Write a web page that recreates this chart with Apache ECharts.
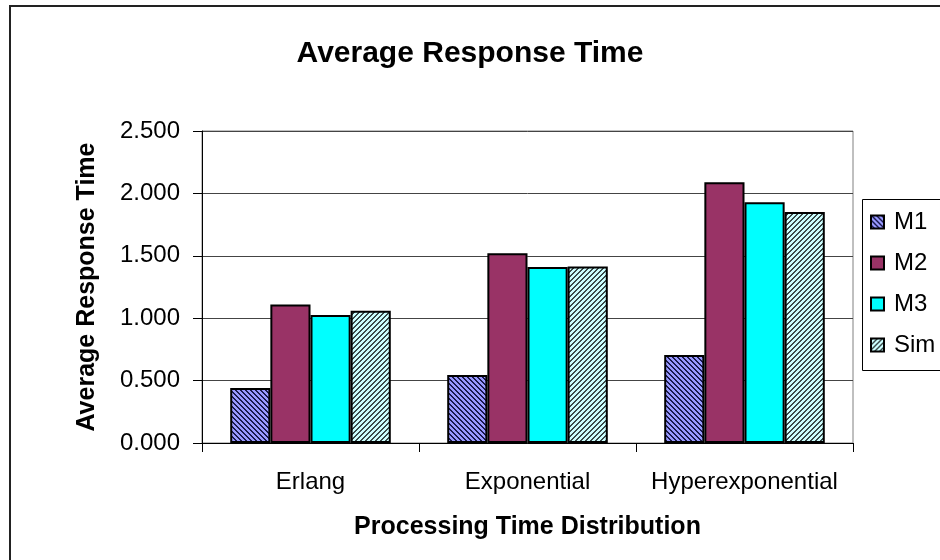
<!DOCTYPE html>
<html>
<head>
<meta charset="utf-8">
<script src="https://cdn.jsdelivr.net/npm/echarts@6/dist/echarts.min.js"></script>
<style>
html,body{margin:0;padding:0;background:#fff;}
#chart{width:940px;height:560px;}
</style>
</head>
<body>
<div id="chart"></div>
<script>
var categories = ['Erlang', 'Exponential', 'Hyperexponential'];
var seriesNames = ['M1', 'M2', 'M3', 'Sim'];
var m1 = [0.44, 0.545, 0.705];
var m2 = [1.11, 1.52, 2.09];
var m3 = [1.025, 1.41, 1.93];
var sim = [1.06, 1.415, 1.85];
var yTicks = [0, 0.5, 1, 1.5, 2, 2.5];

function makePattern(bg, fg, dir, period, thick) {
  var c = document.createElement('canvas');
  c.width = period; c.height = period;
  var ctx = c.getContext('2d');
  ctx.fillStyle = bg;
  ctx.fillRect(0, 0, period, period);
  ctx.fillStyle = fg;
  for (var x = 0; x < period; x++) {
    for (var y = 0; y < period; y++) {
      var k = dir === 'back' ? (x - y) : (x + y);
      k = ((k % period) + period) % period;
      if (k < thick) ctx.fillRect(x, y, 1, 1);
    }
  }
  return { image: c, repeat: 'repeat' };
}

var FONT = "'Liberation Sans', Arial, sans-serif";
var chart = echarts.init(document.getElementById('chart'));

var fills = [
  makePattern('#9999ff', '#1a1a4d', 'back', 5, 2),
  '#993366',
  '#00ffff',
  makePattern('#ccffff', '#3a4a4a', 'fwd', 5, 2)
];
var values = [m1, m2, m3, sim];

var series = seriesNames.map(function (n, i) {
  return {
    name: n,
    type: 'bar',
    data: values[i],
    barGap: '0%',
    barCategoryGap: '26%',
    itemStyle: { color: fills[i], borderColor: '#000', borderWidth: 2 },
    emphasis: { disabled: true }
  };
});

chart.setOption({
  animation: false,
  backgroundColor: '#fff',
  title: {
    text: 'Average Response Time',
    left: 'center',
    top: 39,
    padding: 0,
    textStyle: { fontFamily: FONT, fontSize: 30, fontWeight: 'bold', color: '#000' }
  },
  graphic: [{
    type: 'rect',
    shape: { x: 10, y: 6, width: 1000, height: 700 },
    style: { fill: 'none', stroke: '#222', lineWidth: 2 },
    silent: true,
    z: 100
  }, {
    type: 'rect',
    shape: { x: 862.5, y: 199.5, width: 200, height: 171 },
    style: { fill: 'none', stroke: '#000', lineWidth: 1 },
    silent: true,
    z: 100
  }],
  legend: {
    orient: 'vertical',
    left: 862,
    top: 199,
    data: seriesNames,
    icon: 'rect',
    itemWidth: 13,
    itemHeight: 13,
    itemGap: 17,
    padding: [11, 4, 14, 8],
    borderWidth: 0,
    selectedMode: false,
    textStyle: { fontFamily: FONT, fontSize: 24, color: '#000', padding: [0, 0, 0, 5] }
  },
  grid: {
    left: 202, right: 87, top: 131, bottom: 117,
    show: true, borderColor: '#808080', borderWidth: 1, backgroundColor: 'transparent'
  },
  xAxis: {
    type: 'category',
    data: categories,
    name: 'Processing Time Distribution',
    nameLocation: 'middle',
    nameGap: 72,
    nameTextStyle: { fontFamily: FONT, fontSize: 25, fontWeight: 'bold', color: '#000' },
    axisLine: { lineStyle: { color: '#000', width: 1 } },
    axisTick: { show: true, length: 9, lineStyle: { color: '#000' } },
    axisLabel: { fontFamily: FONT, fontSize: 24, color: '#000', margin: 27, interval: 0 },
    splitLine: { show: false }
  },
  yAxis: {
    type: 'value',
    min: 0,
    max: 2.5,
    interval: 0.5,
    name: 'Average Response Time',
    nameLocation: 'middle',
    nameGap: 102,
    nameTextStyle: { fontFamily: FONT, fontSize: 25, fontWeight: 'bold', color: '#000' },
    axisLine: { show: true, lineStyle: { color: '#000', width: 1 } },
    axisTick: { show: true, length: 9, lineStyle: { color: '#000' } },
    axisLabel: {
      fontFamily: FONT, fontSize: 24, color: '#000', margin: 22,
      formatter: function (v) { return v.toFixed(3); }
    },
    splitLine: { show: true, lineStyle: { color: '#444', width: 1 } }
  },
  series: series
});
</script>
</body>
</html>
